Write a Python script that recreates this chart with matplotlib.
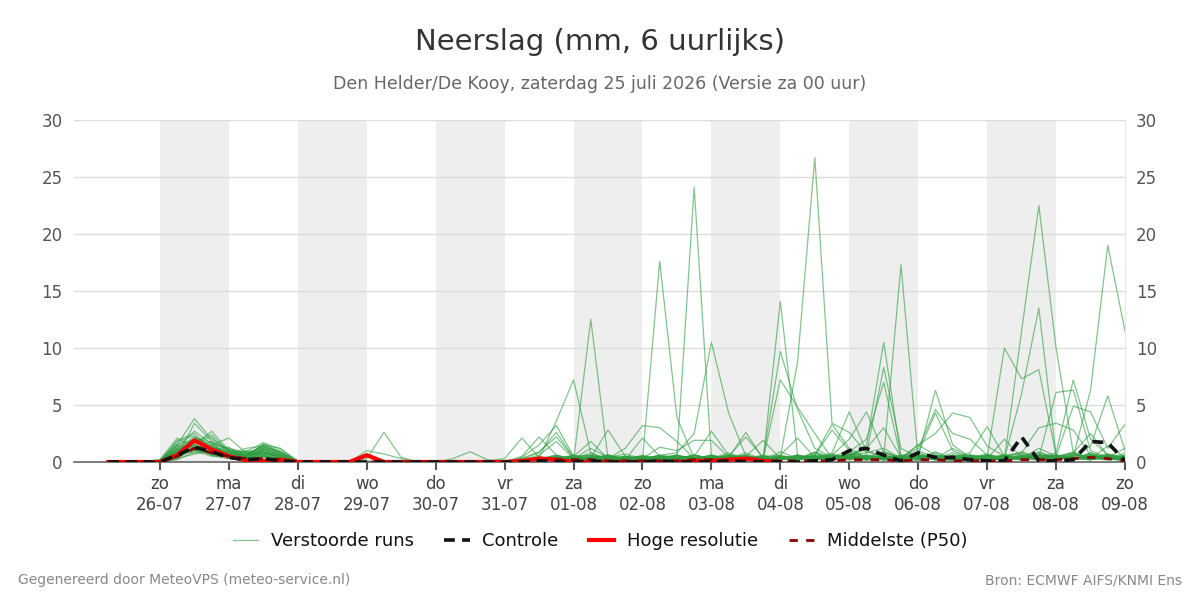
import matplotlib
matplotlib.use("Agg")
import matplotlib.pyplot as plt
import pandas as pd

# tijdas: 6-uurlijkse stappen vanaf za 25-07 06 UTC
start_time = "2026-07-25 06:00"
n_steps = 60

# verstoorde runs (mm per 6 uur)
members = [
    [0,0,0, 0,1.2,2.2,1.4, 0.8,0.5,0.9,0.4, 0.1,0,0,0, 0,0,0.1,0, 0,0,0,0, 0,0.1,0.3,0.5, 0.2,0.4,0.1,0.3, 0.5,0.2,0.1,0.4, 0.3,0.8,0.2,0.1, 0.4,8.8,26.7,3.4, 2.6,0.8,1.2,0.3, 0.5,0.2,0.4,0.1, 0.3,0.2,0.5,0.8, 0.4,0.2,0.6,0.3, 0.1],
    [0,0,0, 0.1,1.5,3.8,2.0, 1.1,0.6,1.5,0.8, 0,0,0,0, 0.1,0,0,0, 0,0,0,0, 0,0,0.2,0.1, 0.6,0.3,0.2,0.1, 0.2,0.4,0.5,24.1, 0.4,0.2,0.6,0.1, 0.9,0.3,0.5,0.2, 0.6,1.1,0.3,0.2, 0.8,0.3,1.2,0.4, 0.2,0.6,0.3,1.2, 0.5,0.8,0.3,1.4, 0.4],
    [0,0,0, 0,0.8,1.5,2.7, 1.0,0.4,1.2,0.6, 0,0,0,0, 0,0,0,0, 0,0.1,0,0, 0,0.2,0.4,0.1, 0.3,0.8,0.2,0.5, 0.2,17.6,3.9,0.3, 0.6,0.2,0.1,0.3, 0.5,0.2,0.9,0.4, 0.3,0.6,0.2,0.1, 1.0,0.4,0.2,0.6, 0.1,0.3,0.9,0.4, 0.2,0.7,0.3,0.5, 0.2],
    [0,0,0, 0.2,2.1,1.2,0.9, 0.6,0.9,1.7,1.1, 0.1,0,0,0, 1.0,0.7,0.3,0, 0,0,0,0.1, 0,0,0.3,0.6, 0.1,12.5,0.3,0.2, 0.4,0.1,0.6,0.2, 0.3,0.5,0.2,0.4, 0.2,0.6,0.3,0.1, 0.8,0.4,0.2,0.5, 0.2,0.9,0.3,0.2, 0.4,0.1,0.6,0.3, 0.5,0.2,0.8,0.3, 0.1],
    [0,0,0, 0,0.5,3.4,1.8, 0.4,0.3,0.8,0.3, 0,0,0,0, 0,0,0,0, 0,0,0,0, 0,0,0.3,3.6, 7.2,0.8,0.2,0.4, 0.1,0.3,0.2,0.6, 0.2,0.4,0.1,0.2, 0.5,0.3,0.8,0.2, 0.4,0.2,0.6,0.3, 0.1,0.5,0.2,0.4, 0.6,0.3,0.2,0.9, 0.3,0.6,0.4,0.2, 0.3],
    [0,0,0, 0,1.0,2.0,1.5, 2.1,0.8,0.6,0.2, 0,0,0,0, 0,0,0,0, 0,0,0,0, 0,0.2,0.1,0.4, 0.2,0.3,0.5,0.1, 0.3,0.6,0.8,2.5, 10.5,4.3,0.5,0.2, 0.6,0.3,0.2,0.7, 0.4,0.2,0.5,0.3, 0.6,0.3,0.2,0.1, 0.3,0.5,0.8,0.4, 0.6,0.3,0.2,0.7, 0.4],
    [0,0,0, 0.1,0.6,1.7,2.2, 0.7,1.2,1.4,0.9, 0,0,0,0, 0,0,0,0, 0,0,0,0, 0,0,0.4,0.2, 0.5,0.2,0.6,0.3, 0.1,0.4,0.3,0.2, 0.6,0.3,0.8,0.2, 14.1,0.6,0.3,0.5, 0.2,0.4,0.9,0.3, 0.5,0.2,0.1,0.4, 0.7,0.3,0.5,0.2, 0.4,0.9,0.3,0.6, 0.2],
    [0,0,0, 0,1.4,1.0,0.7, 0.5,0.6,1.0,0.5, 0,0,0,0, 0,0,0,0, 0,0,0,0, 0,0,0.1,0.3, 0.4,0.6,0.2,0.1, 0.3,0.2,0.5,0.4, 0.2,0.6,0.3,0.3, 9.7,4.6,1.2,0.4, 0.7,0.3,0.2,0.5, 0.3,0.6,0.4,0.2, 0.5,0.2,0.3,0.7, 0.3,0.5,0.2,0.4, 0.1],
    [0,0,0, 0,0.3,1.3,1.1, 1.3,0.4,0.5,0.2, 0,0,0,0, 0.3,2.6,0.4,0, 0,0,0,0, 0,0,0.2,0.5, 0.3,0.2,0.4,0.2, 0.5,0.3,0.2,0.6, 0.3,0.2,0.5,0.2, 7.2,4.8,2.5,0.3, 0.6,0.2,0.4,0.3, 0.8,0.3,0.2,0.5, 0.2,0.6,0.4,0.3, 0.5,0.3,0.7,0.2, 0.6],
    [0,0,0, 0.1,1.8,2.3,1.2, 0.6,0.7,1.2,0.7, 0.1,0,0,0, 0,0,0,0, 0,0,0,0, 0,0,0.5,0.2, 0.3,0.4,0.6,0.1, 0.2,0.5,0.3,0.2, 0.4,0.2,0.3,0.5, 0.3,0.2,0.6,0.4, 0.5,1.5,10.5,0.5, 0.3,0.8,0.2,0.4, 0.6,0.3,0.5,0.2, 0.4,0.7,0.3,0.2, 0.5],
    [0,0,0, 0,0.9,0.8,1.0, 0.9,0.3,0.7,0.4, 0,0,0,0, 0,0,0,0, 0,0,0,0, 0,0.1,0.2,0.4, 0.2,0.5,0.3,0.2, 0.6,0.3,0.2,0.4, 0.2,0.5,0.3,0.1, 0.4,0.3,0.5,0.2, 0.6,0.8,8.3,1.2, 0.4,0.2,0.6,0.3, 0.2,0.5,0.3,0.6, 0.3,0.2,0.8,0.4, 0.3],
    [0,0,0, 0,1.1,1.6,0.6, 0.3,0.5,1.5,1.2, 0,0,0,0, 0,0,0,0, 0,0,0,0, 0,0,0.3,0.1, 0.4,0.2,0.5,0.3, 0.2,0.6,0.4,0.2, 0.3,0.5,0.2,0.4, 0.2,0.6,0.3,0.5, 0.9,2.0,7.0,0.3, 0.5,0.3,0.2,0.6, 0.4,0.3,0.5,0.2, 0.6,0.4,0.2,0.5, 0.2],
    [0,0,0, 0,0.4,1.2,1.8, 1.0,0.9,0.4,0.1, 0,0,0,0, 0,0,0,0, 0,0,0,0, 0,0,0.2,0.6, 0.1,0.3,0.2,0.4, 0.5,0.2,0.3,0.6, 0.2,0.4,0.3,0.2, 0.5,0.3,0.8,0.3, 0.6,0.3,0.4,17.3, 0.2,0.5,0.3,0.6, 0.3,0.2,0.7,0.4, 0.5,0.3,0.2,0.6, 0.3],
    [0,0,0, 0.2,1.6,1.9,0.9, 0.4,0.2,1.1,0.6, 0,0,0,0, 0,0,0,0, 0,0,0,0, 0,0.2,0.1,0.3, 0.6,0.2,0.4,0.2, 0.3,0.5,0.2,0.4, 0.2,0.3,0.6,0.2, 0.4,0.2,0.5,0.3, 0.8,0.4,0.2,0.5, 0.5,6.3,1.5,0.4, 0.3,0.6,0.2,0.5, 0.4,0.2,0.6,0.3, 0.4],
    [0,0,0, 0,0.7,1.4,1.3, 0.8,0.6,0.9,0.3, 0,0,0,0, 0,0,0,0, 0,0,0,0, 0,0,0.4,0.2, 0.3,0.1,0.5,0.3, 0.2,0.4,0.3,0.2, 0.5,0.2,0.4,0.3, 0.3,0.5,0.2,0.4, 0.6,0.3,0.9,0.4, 1.2,4.6,2.5,2.0, 0.6,0.3,0.4,0.2, 0.5,0.3,0.4,0.7, 0.2],
    [0,0,0, 0,1.3,2.7,1.6, 0.5,0.4,0.6,0.2, 0,0,0,0, 0,0,0,0, 0,0,0,0, 0,0,0.1,0.4, 0.2,0.4,0.3,0.5, 0.3,0.2,0.4,0.3, 0.6,0.2,0.3,0.4, 0.2,0.5,0.3,0.6, 0.4,0.2,0.6,0.3, 1.5,2.5,4.3,3.9, 1.4,0.5,0.3,0.6, 0.3,0.4,0.2,0.5, 0.3],
    [0,0,0, 0,0.2,0.9,1.5, 1.2,0.8,1.3,0.8, 0,0,0,0, 0,0,0,0, 0,0,0,0, 0,0,0.2,0.3, 0.5,0.2,0.3,0.1, 0.4,0.3,0.2,0.5, 0.3,0.6,0.2,0.3, 0.5,0.2,0.4,0.6, 0.3,0.5,0.2,0.4, 0.6,0.3,0.5,0.2, 0.4,10.0,7.3,8.1, 0.6,0.4,0.3,0.5, 0.2],
    [0,0,0, 0.1,1.0,1.1,0.8, 0.6,1.0,0.8,0.5, 0,0,0,0, 0,0,0,0, 0,0,0,0, 0,0,0.3,0.2, 0.2,0.5,0.3,0.4, 0.2,0.4,0.6,0.3, 0.4,0.2,0.3,0.5, 0.3,0.6,0.2,0.4, 0.5,0.3,0.4,0.2, 0.3,0.6,0.2,0.4, 0.5,0.2,11.5,22.5, 10.0,0.8,0.4,0.3, 0.5],
    [0,0,0, 0,0.5,1.8,2.4, 0.9,0.3,0.5,0.3, 0,0,0,0, 0,0,0,0, 0,0,0,0, 0,0,0.2,0.5, 0.3,0.2,0.4,0.2, 0.5,0.3,0.2,0.4, 0.2,0.5,0.3,0.2, 0.4,0.3,0.6,0.2, 0.3,0.4,0.2,0.5, 0.4,0.2,0.6,0.3, 0.2,0.3,6.0,13.5, 0.6,0.3,0.5,0.4, 0.2],
    [0,0,0, 0,1.2,1.4,1.1, 0.7,0.5,1.6,0.9, 0.1,0,0,0, 0,0,0,0, 0,0,0,0, 0,0,0.1,0.2, 0.4,0.3,0.2,0.5, 0.2,0.4,0.3,0.6, 0.3,0.2,0.4,0.3, 0.5,0.2,0.3,0.4, 0.2,0.6,0.3,0.2, 0.4,0.3,0.5,0.6, 0.3,0.5,0.2,0.4, 6.1,6.3,1.0,0.4, 0.2],
    [0,0,0, 0,0.6,1.0,0.5, 0.4,0.7,1.0,0.4, 0,0,0,0, 0,0,0,0, 0,0,0,0, 0,0,0.3,0.1, 0.2,0.6,0.3,0.2, 0.4,0.2,0.5,0.3, 0.2,0.4,0.6,0.2, 0.3,0.5,0.2,0.4, 0.6,0.2,0.3,0.5, 0.2,0.4,0.3,0.2, 0.5,0.3,0.6,0.4, 0.8,7.2,2.0,0.6, 0.3],
    [0,0,0, 0.1,0.9,2.1,1.7, 1.1,0.6,0.7,0.5, 0,0,0,0, 0,0,0,0, 0,0,0,0, 0,0,0.2,0.3, 0.5,0.3,0.2,0.4, 0.3,0.5,0.2,0.3, 0.4,0.3,0.2,0.5, 0.2,0.4,0.3,0.6, 0.3,0.5,0.2,0.4, 0.6,0.3,0.4,0.2, 0.3,0.6,0.2,0.4, 0.3,0.5,6.3,19.0, 11.5],
    [0,0,0, 0,1.5,1.3,0.6, 0.5,0.3,1.2,0.6, 0,0,0,0, 0,0,0,0, 0,0,0,0, 0,0,0.1,0.4, 0.3,0.2,0.5,0.3, 0.2,0.4,0.3,0.2, 0.5,0.3,0.2,0.4, 0.3,0.2,0.5,0.3, 0.4,0.6,0.3,0.2, 0.5,0.3,0.2,0.6, 0.4,0.3,0.5,0.2, 0.6,0.3,1.4,5.8, 1.0],
    [0,0,0, 0,0.8,1.7,1.2, 0.8,0.9,0.6,0.3, 0,0,0,0, 0,0,0,0, 0,0,0,0, 0,0,0.2,0.1, 0.3,0.4,0.2,0.5, 0.2,0.3,0.6,0.2, 0.4,0.2,0.3,0.6, 0.2,0.5,0.3,0.4, 0.3,0.2,0.5,0.4, 0.6,0.3,0.2,0.5, 0.3,0.4,0.2,0.6, 0.5,4.9,4.4,1.2, 3.3],
    [0,0,0, 0,0.3,0.7,0.9, 0.6,0.4,0.9,0.5, 0,0,0,0, 0,0,0,0, 0,0.3,0.9,0.2, 0,0.3,0.8,2.6, 0.4,0.2,0.6,0.3, 0.2,0.4,0.3,0.5, 2.7,0.6,0.3,0.2, 0.4,0.3,0.6,2.8, 1.0,0.4,0.3,0.6, 0.5,0.3,0.8,0.4, 0.3,2.0,0.4,0.3, 0.6,0.2,0.5,0.3, 0.4],
    [0,0,0, 0.1,1.1,1.5,1.0, 0.9,0.5,1.4,0.7, 0,0,0,0, 0,0,0,0, 0,0,0,0.1, 0.3,2.1,0.4,0.3, 0.5,1.8,0.3,0.2, 0.4,0.3,0.6,0.2, 0.5,0.4,2.6,0.3, 0.2,0.6,0.3,0.8, 4.4,0.9,0.4,0.3, 0.6,0.4,0.3,0.5, 0.2,0.6,0.8,3.0, 3.4,2.8,0.6,0.4, 0.3],
    [0,0,0, 0,0.7,1.2,1.4, 0.5,0.6,0.8,0.4, 0,0,0,0, 0,0,0,0, 0,0,0,0, 0,0.5,2.2,0.6, 0.3,0.4,2.8,0.5, 0.2,0.6,0.3,0.4, 0.3,0.5,2.2,0.4, 0.3,0.2,0.5,0.6, 2.0,4.4,0.8,0.3, 0.5,0.2,0.6,0.4, 0.3,0.5,0.3,0.6, 0.4,0.8,2.5,0.6, 0.5],
    [0,0,0, 0,1.9,2.5,1.1, 0.7,0.4,1.1,0.6, 0,0,0,0, 0,0,0,0, 0,0,0,0, 0,0.4,1.5,3.2, 0.5,0.6,0.3,1.2, 3.2,3.0,1.8,0.3, 0.4,0.6,0.5,1.9, 0.3,0.4,0.5,0.3, 0.6,1.2,3.0,0.4, 0.5,0.2,0.4,0.3, 0.6,0.4,0.3,0.5, 0.3,0.6,0.4,0.2, 0.6],
    [0,0,0, 0,0.4,1.1,0.7, 0.3,0.2,0.5,0.2, 0,0,0,0, 0,0,0,0, 0,0,0,0, 0,0.3,0.9,2.2, 0.4,0.3,0.6,0.2, 2.1,0.5,0.3,0.6, 0.3,0.2,0.4,0.5, 0.6,2.1,0.4,0.3, 0.5,0.2,0.3,0.6, 0.8,4.3,1.0,0.3, 0.4,0.6,0.3,0.2, 0.5,0.3,0.6,0.2, 0.8],
    [0,0,0, 0,1.0,1.9,1.3, 1.0,0.7,1.3,0.9, 0.1,0,0,0, 0,0,0,0, 0,0,0,0, 0,0.2,0.6,1.8, 0.3,1.2,0.4,0.7, 0.3,1.3,1.0,1.9, 1.9,0.4,0.3,0.2, 0.5,0.3,0.6,3.3, 1.2,0.4,0.5,0.3, 1.5,0.6,0.4,0.8, 3.1,0.5,0.3,0.4, 0.6,0.3,0.5,0.4, 1.2],
]

controle = [0,0,0, 0,0.6,1.3,0.9, 0.4,0.2,0.3,0.1, 0,0,0,0, 0,0,0,0, 0,0,0,0, 0,0,0.1,0, 0,0.1,0,0, 0,0.1,0,0, 0,0.1,0,0, 0,0,0.1,0.2,
            1.0,1.2,0.6,0.1, 0.8,0.4,0.4,0.2, 0.1,0.1,2.2,0.1, 0.1,0.2,1.8,1.7, 0.1]

# hoge resolutie loopt tot di 04-08 00 UTC
hres = [0,0,0, 0,0.6,1.9,1.1, 0.5,0.15,0.1,0.2, 0,0,0,0, 0.6,0,0,0, 0,0,0,0, 0,0.1,0.3,0.2, 0,0,0,0, 0,0,0,0.1, 0.1,0.2,0.3,0.1, 0]

p50 = [0,0,0, 0,0.5,1.2,0.8, 0.5,0.3,0.3,0.2, 0,0,0,0, 0,0,0,0, 0,0,0,0, 0,0,0.1,0.2, 0.2,0.2,0.1,0.1, 0.1,0.1,0.1,0.2, 0.2,0.1,0.1,0.1, 0.1,0.1,0.1,0.1,
       0.2,0.2,0.2,0.1, 0.2,0.2,0.1,0.1, 0.1,0.1,0.2,0.2, 0.2,0.3,0.4,0.3, 0.1]

# grijze banden: om de dag
shade_days = ["2026-07-26", "2026-07-28", "2026-07-30", "2026-08-01", "2026-08-03", "2026-08-05", "2026-08-07"]
day_names = ["ma", "di", "wo", "do", "vr", "za", "zo"]

times = pd.date_range(start_time, periods=n_steps, freq="6h")

fig = plt.figure(figsize=(12, 6), dpi=100)
ax = fig.add_axes([0.0615, 0.23, 0.876, 0.57])

for d in shade_days:
    d0 = pd.Timestamp(d)
    ax.axvspan(d0, d0 + pd.Timedelta(days=1), color="#eeeeee", lw=0, zorder=0)

for i, m in enumerate(members):
    ax.plot(times, m, color="#2e9e40", alpha=0.6, lw=0.9, zorder=2,
            label="Verstoorde runs" if i == 0 else None)

ax.plot(times[:len(hres)], hres, color="#ff0000", lw=3, zorder=3, label="Hoge resolutie")
ax.plot(times, p50, color="#8b0000", lw=2, ls=(0, (3, 3)), zorder=4, label="Middelste (P50)")
ax.plot(times, controle, color="#111111", lw=2.6, ls=(0, (3, 2)), zorder=5, label="Controle")

ax.set_ylim(0, 30)
ax.set_yticks(range(0, 31, 5))
ax.set_xlim(times[0] - pd.Timedelta(hours=12), times[-1])
ax.grid(axis="y", color="#dddddd", lw=1)
ax.set_axisbelow(True)

ticks = pd.date_range("2026-07-26", "2026-08-09", freq="D")
ax.set_xticks(ticks)
ax.set_xticklabels([f"{day_names[t.dayofweek]}\n{t.strftime('%d-%m')}" for t in ticks])
ax.tick_params(axis="x", colors="#555555", labelsize=12, length=6, width=1.5, labelcolor="#444444")
ax.tick_params(axis="y", length=0, labelsize=12, labelcolor="#555555",
               left=True, right=True, labelleft=True, labelright=True, pad=8)

for s in ["left", "top"]:
    ax.spines[s].set_visible(False)
ax.spines["right"].set_color("#e6e6e6")
ax.spines["bottom"].set_color("#666666")
ax.spines["bottom"].set_linewidth(1.2)

fig.text(0.5, 0.93, "Neerslag (mm, 6 uurlijks)", ha="center", va="center", fontsize=21, color="#333333")
fig.text(0.5, 0.86, "Den Helder/De Kooy, zaterdag 25 juli 2026 (Versie za 00 uur)", ha="center", va="center",
         fontsize=12.5, color="#666666")

handles, labels = ax.get_legend_handles_labels()
order = ["Verstoorde runs", "Controle", "Hoge resolutie", "Middelste (P50)"]
hmap = dict(zip(labels, handles))
leg = fig.legend([hmap[k] for k in order], order, loc="center", bbox_to_anchor=(0.5, 0.098), ncol=4,
                 frameon=False, fontsize=13, handlelength=1.4, handletextpad=0.7, columnspacing=1.7)
for t in leg.get_texts():
    t.set_color("#111111")

fig.text(0.015, 0.033, "Gegenereerd door MeteoVPS (meteo-service.nl)", ha="left", va="center", fontsize=10, color="#888888")
fig.text(0.985, 0.033, "Bron: ECMWF AIFS/KNMI Ens", ha="right", va="center", fontsize=10, color="#888888")

fig.savefig("out.png", dpi=100)
